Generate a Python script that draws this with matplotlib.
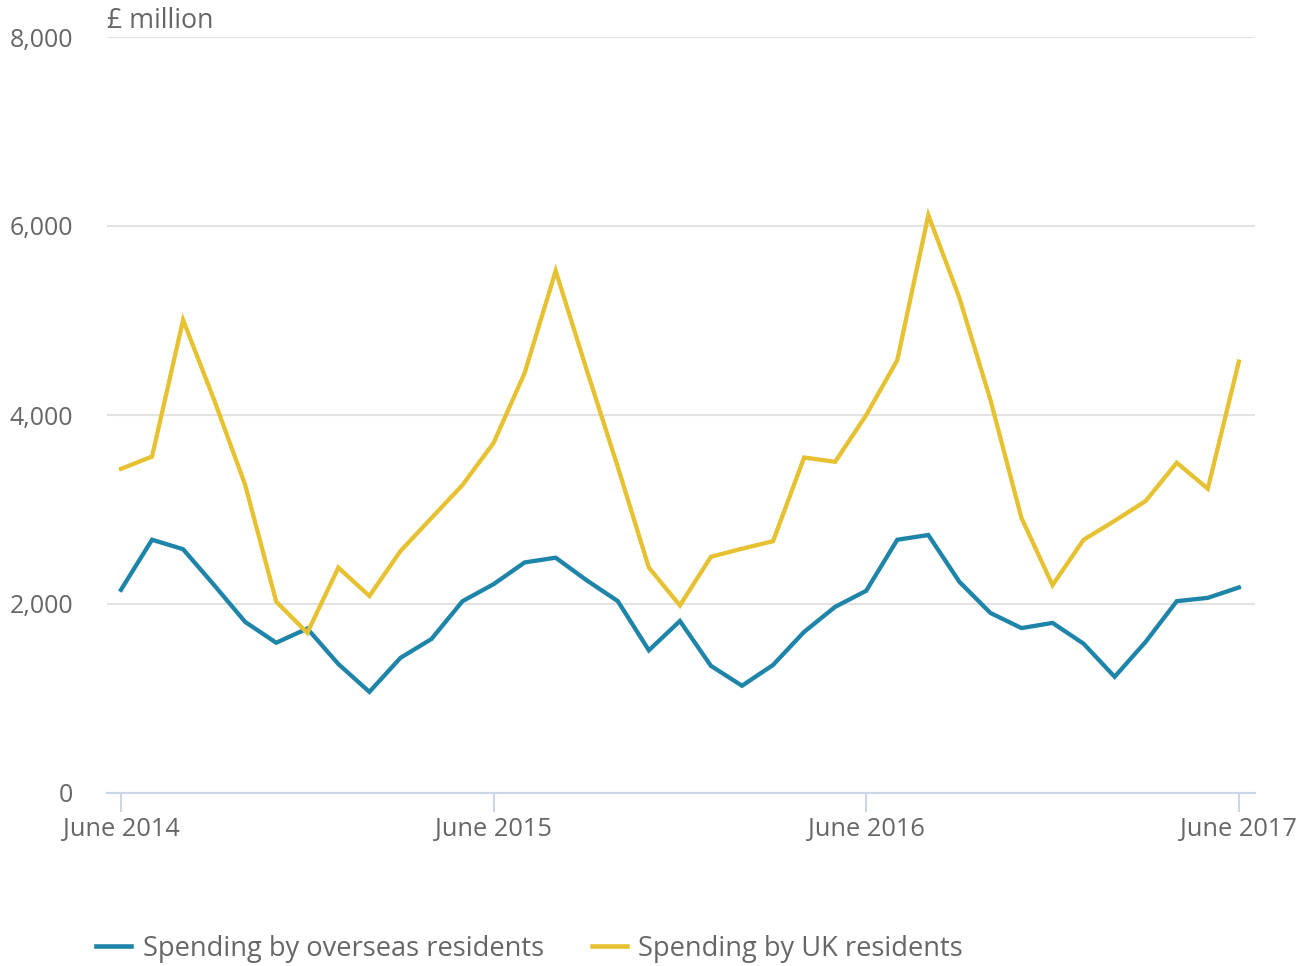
import numpy as np
import matplotlib
matplotlib.use("Agg")
import matplotlib.pyplot as plt
from matplotlib.lines import Line2D

plt.rcParams['font.family'] = ['Open Sans', 'DejaVu Sans']

# monthly, June 2014 .. June 2017
months = ['Jun 14', 'Jul 14', 'Aug 14', 'Sep 14', 'Oct 14', 'Nov 14', 'Dec 14',
          'Jan 15', 'Feb 15', 'Mar 15', 'Apr 15', 'May 15', 'Jun 15', 'Jul 15',
          'Aug 15', 'Sep 15', 'Oct 15', 'Nov 15', 'Dec 15', 'Jan 16', 'Feb 16',
          'Mar 16', 'Apr 16', 'May 16', 'Jun 16', 'Jul 16', 'Aug 16', 'Sep 16',
          'Oct 16', 'Nov 16', 'Dec 16', 'Jan 17', 'Feb 17', 'Mar 17', 'Apr 17',
          'May 17', 'Jun 17']

overseas = [2150, 2680, 2580, 2200, 1810, 1590, 1740, 1365, 1070, 1430, 1630,
            2030, 2210, 2440, 2490, 2250, 2030, 1510, 1820, 1345, 1135, 1355,
            1705, 1970, 2140, 2680, 2730, 2235, 1905, 1745, 1800, 1580, 1230,
            1600, 2030, 2065, 2175]

uk = [3430, 3560, 5005, 4160, 3260, 2025, 1695, 2385, 2085, 2560, 2910,
      3260, 3705, 4445, 5525, 4475, 3450, 2385, 1985, 2500, 2585, 2665,
      3550, 3505, 4000, 4580, 6115, 5240, 4160, 2910, 2200, 2680, 2880,
      3090, 3495, 3220, 4565]

tick_pos = [0, 12, 24, 36]
tick_labels = ['June 2014', 'June 2015', 'June 2016', 'June 2017']
yticks = [0, 2000, 4000, 6000, 8000]

blue = '#1e85a9'
yellow = '#e6c232'
grey_txt = '#666666'

fig = plt.figure(figsize=(13.07, 9.66), dpi=100)
ax = fig.add_axes([107/1307, 1 - 793/966, (1255 - 107)/1307, (793 - 37)/966])

x = np.arange(len(months))
ax.plot(x, overseas, color=blue, lw=3.1, solid_joinstyle='miter', zorder=3)
ax.plot(x, uk, color=yellow, lw=3.1, solid_joinstyle='miter', zorder=3)

ax.set_xlim(-0.45, 36.52)
ax.set_ylim(0, 8000)

for s in ['top', 'right', 'left']:
    ax.spines[s].set_visible(False)
ax.spines['bottom'].set_color('#ccd6eb')
ax.spines['bottom'].set_linewidth(1.5)

ax.set_yticks(yticks)
ax.set_yticklabels(['{:,}'.format(v) for v in yticks])
ax.yaxis.grid(True, color='#e3e3e3', lw=1.5)
ax.set_axisbelow(True)
ax.tick_params(axis='y', length=0, pad=24.5, labelsize=18, labelcolor=grey_txt)

ax.set_xticks(tick_pos)
ax.set_xticklabels(tick_labels)
ax.tick_params(axis='x', length=14, width=1.5, color='#ccd6eb', pad=3.5,
               labelsize=18.3, labelcolor=grey_txt)

fig.text(107/1307, 1 - 21/966, '£ million', fontsize=19.3, color=grey_txt,
         ha='left', va='center')

handles = [Line2D([], [], color=blue, lw=3.3),
           Line2D([], [], color=yellow, lw=3.3)]
fig.legend(handles, ['Spending by overseas residents', 'Spending by UK residents'],
           loc='center left', bbox_to_anchor=(96/1307, 1 - 949/966), ncol=2,
           frameon=False, fontsize=19.6, labelcolor=grey_txt, borderpad=0,
           borderaxespad=0, handlelength=1.3, handletextpad=0.42,
           columnspacing=1.75)

fig.savefig('out.png', dpi=100)
